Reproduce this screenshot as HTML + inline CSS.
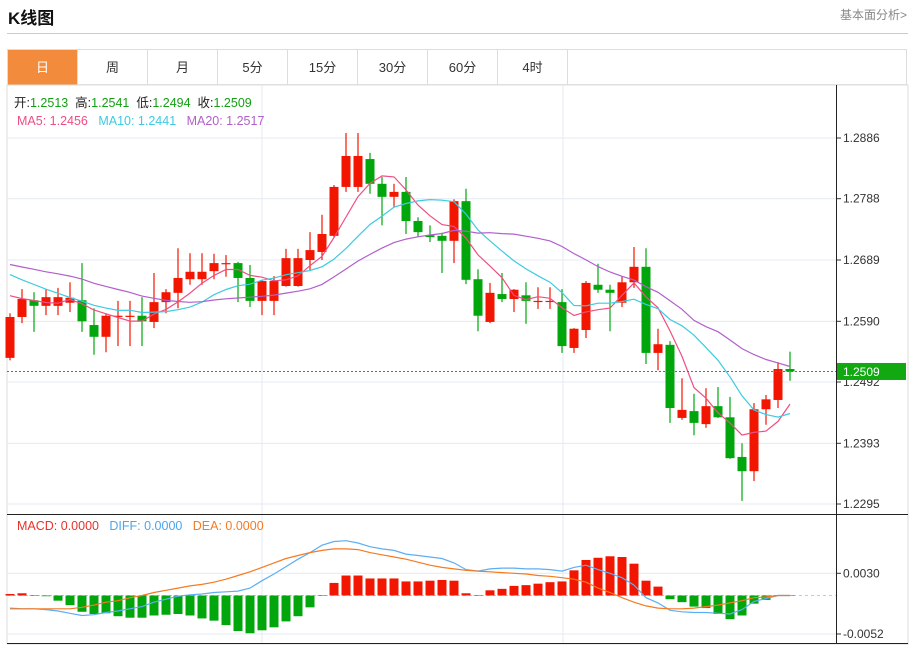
<!DOCTYPE html>
<html><head><meta charset="utf-8">
<style>
body{margin:0;background:#fff;font-family:"Liberation Sans","Noto Sans CJK SC",sans-serif;}
#wrap{position:relative;width:911px;height:647px;overflow:hidden;}
.title{position:absolute;left:8px;top:4px;font-size:17px;font-weight:bold;color:#111;}
.more{position:absolute;right:4px;top:6px;font-size:12px;color:#888;}
.hr{position:absolute;left:7px;top:33px;width:901px;height:1px;background:#ccc;}
.tabs{position:absolute;left:7px;top:49px;width:900px;height:36px;border:1px solid #ddd;border-bottom:1px solid #e3e3e3;box-sizing:border-box;}
.tab{position:absolute;top:0;height:35px;width:70px;line-height:35px;text-align:center;font-size:13px;color:#333;border-right:1px solid #ddd;box-sizing:border-box;}
.tab.on{background:#f28c3c;color:#fff;}
svg{position:absolute;left:0;top:0;}
</style></head>
<body><div id="wrap">
<div class="title">K线图</div>
<div class="more">基本面分析&gt;</div>
<div class="hr"></div>
<div class="tabs">
<div class="tab on" style="left:0">日</div>
<div class="tab" style="left:70px">周</div>
<div class="tab" style="left:140px">月</div>
<div class="tab" style="left:210px">5分</div>
<div class="tab" style="left:280px">15分</div>
<div class="tab" style="left:350px">30分</div>
<div class="tab" style="left:420px">60分</div>
<div class="tab" style="left:490px">4时</div>
</div>
<svg id="chart" width="911" height="647"></svg>
</div>
<script>
const opens =[1.2531,1.2597,1.2624,1.2615,1.2615,1.2620,1.2624,1.2584,1.2565,1.2598,1.2598,1.2599,1.2589,1.2621,1.2636,1.2658,1.2658,1.2671,1.2683,1.2684,1.2660,1.2623,1.2623,1.2647,1.2647,1.2689,1.2702,1.2728,1.2807,1.2807,1.2852,1.2812,1.2791,1.2799,1.2752,1.2729,1.2728,1.2720,1.2784,1.2658,1.2589,1.2634,1.2626,1.2632,1.2622,1.2622,1.2621,1.2547,1.2576,1.2649,1.2641,1.2620,1.2653,1.2678,1.2539,1.2552,1.2434,1.2445,1.2424,1.2453,1.2435,1.2371,1.2348,1.2448,1.2463,1.2513];
const highs =[1.2603,1.2642,1.2637,1.2642,1.2644,1.2653,1.2684,1.2611,1.2603,1.2623,1.2623,1.2629,1.2668,1.2642,1.2708,1.2700,1.2700,1.2699,1.2697,1.2686,1.2681,1.2656,1.2663,1.2707,1.2707,1.2734,1.2762,1.2810,1.2894,1.2894,1.2862,1.2823,1.2812,1.2823,1.2758,1.2745,1.2733,1.2787,1.2804,1.2674,1.2652,1.2668,1.2642,1.2653,1.2645,1.2645,1.2642,1.2579,1.2655,1.2683,1.2649,1.2662,1.2710,1.2708,1.2578,1.2558,1.2498,1.2473,1.2482,1.2484,1.2468,1.2393,1.2458,1.2471,1.2524,1.2541];
const lows  =[1.2527,1.2587,1.2573,1.2600,1.2600,1.2605,1.2573,1.2536,1.2540,1.2550,1.2550,1.2550,1.2579,1.2603,1.2611,1.2649,1.2649,1.2658,1.2662,1.2621,1.2613,1.2600,1.2600,1.2646,1.2646,1.2673,1.2689,1.2726,1.2799,1.2799,1.2796,1.2745,1.2775,1.2731,1.2726,1.2718,1.2668,1.2684,1.2650,1.2574,1.2587,1.2621,1.2605,1.2586,1.2610,1.2610,1.2539,1.2539,1.2563,1.2636,1.2574,1.2613,1.2644,1.2521,1.2511,1.2426,1.2431,1.2406,1.2418,1.2434,1.2368,1.2300,1.2332,1.2423,1.2450,1.2494];
const closes=[1.2597,1.2626,1.2615,1.2629,1.2629,1.2628,1.2590,1.2565,1.2599,1.2599,1.2599,1.2590,1.2621,1.2637,1.2660,1.2670,1.2670,1.2684,1.2684,1.2660,1.2623,1.2655,1.2655,1.2692,1.2692,1.2705,1.2731,1.2807,1.2857,1.2857,1.2812,1.2791,1.2799,1.2752,1.2734,1.2726,1.2720,1.2784,1.2657,1.2599,1.2636,1.2626,1.2641,1.2623,1.2623,1.2623,1.2550,1.2578,1.2652,1.2641,1.2636,1.2653,1.2678,1.2539,1.2553,1.2450,1.2447,1.2426,1.2453,1.2435,1.2369,1.2348,1.2448,1.2464,1.2513,1.2509];
const priorCloses=[1.2705,1.2690,1.2710,1.2695,1.2700,1.2688,1.2702,1.2696,1.2700,1.2694,1.2710,1.2690,1.2705,1.2695,1.2697,1.2650,1.2630,1.2645,1.2635];
const priceTicks=[1.2886,1.2788,1.2689,1.2590,1.2492,1.2393,1.2295];
const macdE4=[2,3,0.5,-1,-7,-13,-22,-25,-24,-28,-30,-30,-27,-26,-25,-27,-31,-34,-40,-48,-51,-47,-43,-35,-28,-16,0.3,17,27,27,23,23,23,19,19,20,21,20,3,0.4,7,9,13,14,16,18,19,34,48,51,53,52,43,20,12,-5,-9,-15,-17,-25,-32,-27,-11,-6,0.4,0.3];
const diffE4=[-17,-18,-18,-19,-21,-24,-27,-26,-23,-21,-18,-15,-9,-5,-1,1,2,4,5,6,10,20,29,39,49,58,68,73,74,71,66,63,61,56,54,52,50,44,35,33,36,37,37,36,36,35,33,38,41,35,30,24,14,-3,-10,-20,-22,-23,-23,-24,-25,-19,-8,-4,0,0];
const deaE4=[-18,-18,-18,-18,-18,-18,-16,-13,-9,-7,-3,0,4,7,10,13,15,18,22,27,32,38,44,50,54,58,61,63,63,62,58,55,52,49,45,41,38,36,34,33,32,31,30,29,27,26,24,22,18,10,4,-3,-9,-14,-17,-18,-18,-17,-15,-13,-10,-7,-3,-2,0,0];
const macdTicks=[0.0030,-0.0052];
const lastClose=1.2509;

const NS="http://www.w3.org/2000/svg";
const svg=document.getElementById('chart');
function el(tag,attrs,parent){const e=document.createElementNS(NS,tag);for(const k in attrs)e.setAttribute(k,attrs[k]);(parent||svg).appendChild(e);return e;}
const xAt=i=>10+12*i;
const yP=p=>138+(1.2886-p)*6193;
const yM=v=>595.5-v*7400;
const RED='#f21500',GREEN='#00a60c';

// frame & grid
let g=el('rect',{x:7,y:85,width:901,height:559,fill:'none',stroke:'#ddd'});


[262,563].forEach(x=>{const l=el('line',{x1:x,y1:85,x2:x,y2:643,stroke:'#e3eaf0'});

});
priceTicks.forEach(p=>{const y=yP(p);
const l=el('line',{x1:7,y1:y,x2:836,y2:y,stroke:'#e3eaf0'});


el('line',{x1:836,y1:y,x2:841,y2:y,stroke:'#333'});
const t=el('text',{x:843,y:y+4,'font-size':12,fill:'#333'});t.textContent=p.toFixed(4);

});
macdTicks.forEach(v=>{const y=yM(v);
const l=el('line',{x1:7,y1:y,x2:836,y2:y,stroke:'#e3eaf0'});


el('line',{x1:836,y1:y,x2:841,y2:y,stroke:'#333'});
const t=el('text',{x:843,y:y+4,'font-size':12,fill:'#333'});t.textContent=v.toFixed(4);

});
let ax=el('line',{x1:836.5,y1:85,x2:836.5,y2:644,stroke:'#222'});


let sep=el('line',{x1:7,y1:514.5,x2:908,y2:514.5,stroke:'#222'});


let bot=el('line',{x1:7,y1:643.5,x2:908,y2:643.5,stroke:'#222'});



// candles
closes.forEach((c,i)=>{const o=opens[i],x=xAt(i);const up=c>=o;const col=up?RED:GREEN;
const w=el('line',{x1:x,y1:yP(highs[i]),x2:x,y2:yP(lows[i]),stroke:col,'stroke-width':1.2});


const top=yP(Math.max(o,c)),bt=yP(Math.min(o,c));
const b=el('rect',{x:x-4.5,y:top,width:9,height:Math.max(1.2,bt-top),fill:col});

});

// moving averages
const all=priorCloses.concat(closes);
function ma(n){return closes.map((_,i)=>{const j=i+priorCloses.length;let s=0;for(let k=j-n+1;k<=j;k++)s+=all[k];return s/n;});}
[[5,'#ee4f82','ma5-line'],[10,'#3ccbe0','ma10-line'],[20,'#b25fcc','ma20-line']].forEach(([n,col,name])=>{
const pts=ma(n).map((v,i)=>xAt(i)+','+yP(v).toFixed(1)).join(' ');
const pl=el('polyline',{points:pts,fill:'none',stroke:col,'stroke-width':1.2});

});

// last price line
const ly=yP(lastClose);
let dl=el('line',{x1:7,y1:ly,x2:836,y2:ly,stroke:'#14a814','stroke-dasharray':'2,2'});


let lb=el('rect',{x:837,y:ly-8.5,width:69,height:17,fill:'#11a811'});


let lt=el('text',{x:843,y:ly+4.5,'font-size':12,fill:'#fff'});lt.textContent=lastClose.toFixed(4);



// MACD
let zl=el('line',{x1:7,y1:yM(0),x2:836,y2:yM(0),stroke:'#a8d4e8','stroke-dasharray':'3,3'});


macdE4.forEach((v,i)=>{const val=v/10000;const y0=yM(0),y1=yM(val);
const r=el('rect',{x:xAt(i)-4.5,y:Math.min(y0,y1),width:9,height:Math.max(0.5,Math.abs(y1-y0)),fill:val>=0?RED:GREEN});

});
[[diffE4,'#5eaef2','diff-line'],[deaE4,'#f57a22','dea-line']].forEach(([arr,col,name])=>{
const pts=arr.map((v,i)=>xAt(i)+','+yM(v/10000).toFixed(1)).join(' ');
const pl=el('polyline',{points:pts,fill:'none',stroke:col,'stroke-width':1.2});

});

// legends
function leg(x,y,parts,name){const t=el('text',{x:x,y:y,'font-size':12.5});


parts.forEach(([s,c])=>{const sp=el('tspan',{fill:c},t);sp.textContent=s;});}
leg(14,107,[['开:','#222'],['1.2513  ','#13a013'],['高:','#222'],['1.2541  ','#13a013'],['低:','#222'],['1.2494  ','#13a013'],['收:','#222'],['1.2509','#13a013']],'ohlc-legend');
leg(17,125,[['MA5: 1.2456   ','#ee4f82'],['MA10: 1.2441   ','#3ccbe0'],['MA20: 1.2517','#b25fcc']],'ma-legend');
leg(17,530,[['MACD: 0.0000   ','#e8322a'],['DIFF: 0.0000   ','#4aa6ee'],['DEA: 0.0000','#f57a22']],'macd-legend');
document.querySelectorAll('tspan').forEach(s=>{s.setAttribute('xml:space','preserve');s.style.whiteSpace='pre';});
</script>
</body></html>
